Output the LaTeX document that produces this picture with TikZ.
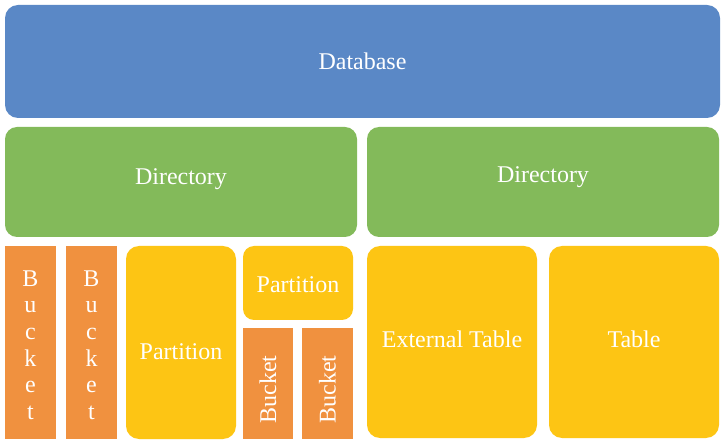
\documentclass[tikz,border=0pt]{standalone}
\usepackage{fontspec}
\usepackage{graphicx}
\setmainfont{Liberation Serif}
\definecolor{dbblue}{HTML}{5A88C6}
\definecolor{dirgreen}{HTML}{83BA5A}
\definecolor{bkorange}{HTML}{F0913F}
\definecolor{ptyellow}{HTML}{FDC514}
\newcommand{\liftby}[2]{\raisebox{#1}[\height][\depth]{#2}}
\newcommand{\stackword}{\begin{tabular}{@{}c@{}}B\\u\\c\\k\\e\\t\end{tabular}}
\tikzset{
  box/.style={inner sep=0pt, outer sep=0pt, text=white, align=center,
    font={\fontsize{24}{26.6}\selectfont}},
  dbbox/.style={box, fill=dbblue, rounded corners=13pt},
  dirbox/.style={box, fill=dirgreen, rounded corners=12pt},
  partbox/.style={box, fill=ptyellow, rounded corners=13pt},
  bucketbox/.style={box, fill=bkorange},
}
\begin{document}
\begin{tikzpicture}[x=1pt,y=-1pt]
\useasboundingbox[fill=white] (0,0) rectangle (726,446);
\node[dbbox, minimum width=715pt, minimum height=113pt] (db) at (362.5,61.5) {Database};
\node[dirbox, minimum width=352pt, minimum height=110pt] (dir1) at (181,182) {\liftby{3pt}{Directory}};
\node[dirbox, minimum width=352pt, minimum height=110pt] (dir2) at (543,182) {\liftby{5pt}{Directory}};
\node[bucketbox, minimum width=51pt, minimum height=193pt] (bk1) at (30.5,342.5) {\liftby{-5pt}{\stackword}};
\node[bucketbox, minimum width=51pt, minimum height=193pt] (bk2) at (91.5,342.5) {\liftby{-5pt}{\stackword}};
\node[partbox, minimum width=110pt, minimum height=193pt] (p1) at (181,342.5) {\liftby{-9pt}{Partition}};
\node[partbox, rounded corners=11pt, minimum width=110pt, minimum height=74pt] (p2) at (298,283) {\liftby{-2pt}{Partition}};
\node[bucketbox, minimum width=50pt, minimum height=111pt] (bk3) at (268,383.5) {\liftby{-6pt}{\rotatebox{90}{Bucket}}};
\node[bucketbox, minimum width=51pt, minimum height=111pt] (bk4) at (327.5,383.5) {\liftby{-6pt}{\rotatebox{90}{Bucket}}};
\node[partbox, minimum width=170pt, minimum height=192pt] (et) at (452,342) {\liftby{3pt}{External Table}};
\node[partbox, minimum width=170pt, minimum height=192pt] (tb) at (634,342) {\liftby{3pt}{Table}};
\end{tikzpicture}
\end{document}
